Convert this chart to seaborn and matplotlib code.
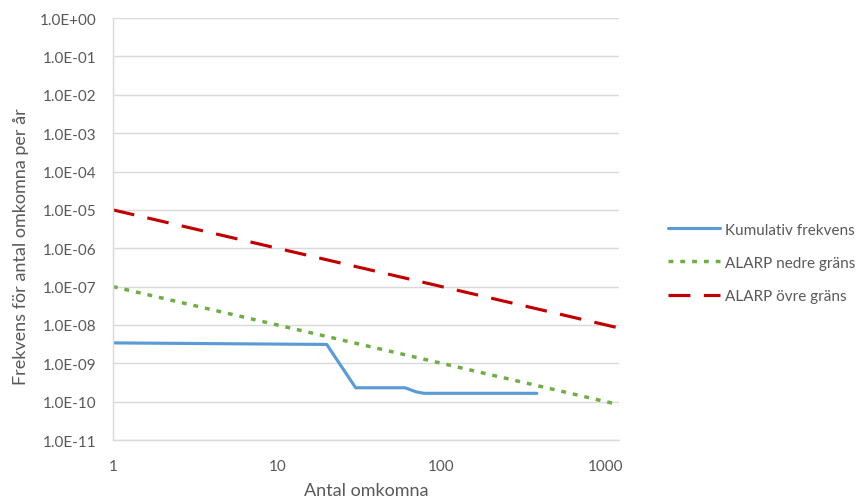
import matplotlib
matplotlib.use("Agg")
import matplotlib.pyplot as plt
import seaborn as sns
from matplotlib.ticker import FixedLocator, FuncFormatter, NullLocator

# Data
kum_x = [1, 20, 30, 60, 70, 78, 380]
kum_y = [3.4e-9, 3.1e-9, 2.3e-10, 2.3e-10, 1.8e-10, 1.65e-10, 1.65e-10]

alarp_x = [1, 1200]
nedre_y = [1e-7, 8.33e-11]
ovre_y = [1e-5, 8.33e-9]

x_ticks = [1, 10, 100, 1000]
y_ticks = [10.0 ** e for e in range(-11, 1)]

sns.set_theme(style="white")
plt.rcParams['font.family'] = ['Lato', 'DejaVu Sans']
txt = '#595959'

fig = plt.figure(figsize=(8.62, 5.02), dpi=100)
ax = fig.add_axes([0.131, 0.1215, 0.587, 0.8405])

sns.lineplot(x=kum_x, y=kum_y, ax=ax, color='#5B9BD5', lw=2.25,
             label='Kumulativ frekvens', sort=False)
sns.lineplot(x=alarp_x, y=nedre_y, ax=ax, color='#70AD47', lw=2.5,
             label='ALARP nedre gräns')
sns.lineplot(x=alarp_x, y=ovre_y, ax=ax, color='#C00000', lw=2.25,
             label='ALARP övre gräns')
ax.lines[1].set_dashes((1.4, 2.0))
ax.lines[2].set_dashes((7, 4.3))

ax.set_xscale('log')
ax.set_yscale('log')
ax.set_xlim(1, 1200)
ax.set_ylim(1e-11, 1)

ax.xaxis.set_major_locator(FixedLocator(x_ticks))
ax.xaxis.set_minor_locator(NullLocator())
ax.xaxis.set_major_formatter(FuncFormatter(lambda v, p: f"{v:g}"))
ax.yaxis.set_major_locator(FixedLocator(y_ticks))
ax.yaxis.set_minor_locator(NullLocator())
ax.yaxis.set_major_formatter(FuncFormatter(lambda v, p: f"{v:.1E}"))

ax.grid(axis='y', color='#D9D9D9', lw=1)
ax.grid(axis='x', visible=False)
for s in ['top', 'right']:
    ax.spines[s].set_visible(False)
for s in ['left', 'bottom']:
    ax.spines[s].set_color('#D9D9D9')
    ax.spines[s].set_linewidth(1)

ax.tick_params(axis='both', length=0, labelsize=11, colors=txt)
ax.tick_params(axis='y', pad=12)
ax.tick_params(axis='x', pad=14)

ax.set_xlabel('Antal omkomna', fontsize=13, color=txt, labelpad=6)
ax.set_ylabel('Frekvens för antal omkomna per år', fontsize=13, color=txt)
ax.yaxis.set_label_coords(-0.165, 0.46)

leg = ax.legend(loc='center left', bbox_to_anchor=(1.07, 0.42), frameon=False,
                fontsize=11, handlelength=3.4, handletextpad=0.3,
                labelspacing=1.25)
for t in leg.get_texts():
    t.set_color(txt)

fig.savefig('out.png', dpi=100)
